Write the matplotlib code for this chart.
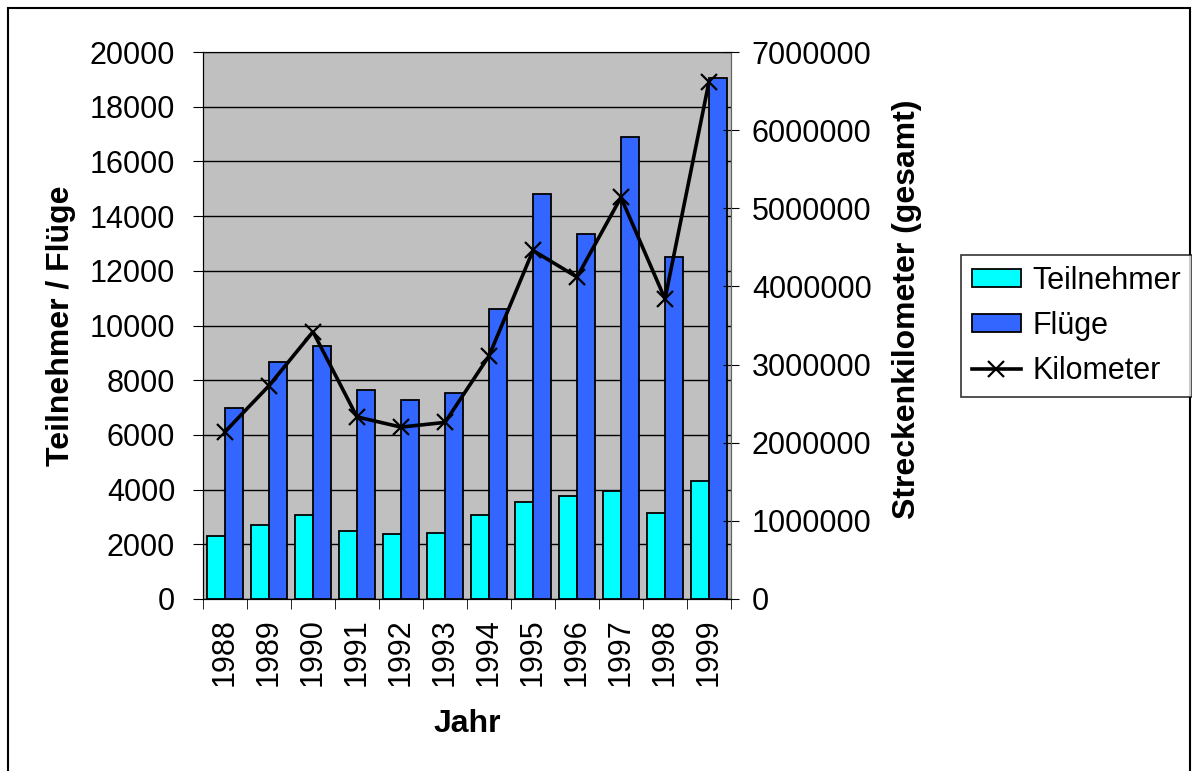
import numpy as np
import matplotlib.pyplot as plt
from matplotlib.ticker import FuncFormatter
from matplotlib.patches import Rectangle

# data
jahre = ['1988', '1989', '1990', '1991', '1992', '1993',
         '1994', '1995', '1996', '1997', '1998', '1999']
teilnehmer = [2290, 2700, 3060, 2490, 2360, 2420, 3060, 3560, 3750, 3950, 3130, 4330]
fluege = [7000, 8680, 9250, 7630, 7280, 7550, 10590, 14800, 13330, 16910, 12490, 19040]
kilometer = [2140000, 2730000, 3420000, 2330000, 2200000, 2260000,
             3110000, 4460000, 4120000, 5140000, 3840000, 6620000]

plt.rcParams['font.family'] = ['Liberation Sans', 'DejaVu Sans']
FS = 22
LFS = 23

fig = plt.figure(figsize=(11.92, 7.71), dpi=100)
ax = fig.add_axes([203/1192, 1-599/771, (731-203)/1192, (599-52)/771])
ax.set_facecolor('#C0C0C0')

x = np.arange(len(jahre))
w = 0.41
b1 = ax.bar(x - w/2, teilnehmer, w, color='#00FFFF', edgecolor='black', linewidth=1.3, label='Teilnehmer', zorder=3)
b2 = ax.bar(x + w/2, fluege, w, color='#3366FF', edgecolor='black', linewidth=1.3, label='Flüge', zorder=3)
ax.set_xlim(-0.5, 11.5)
ax.set_ylim(0, 20000)
ax.set_yticks(range(0, 20001, 2000))
ax.yaxis.grid(True, color='black', linewidth=1)
ax.set_axisbelow(True)

fmt = FuncFormatter(lambda v, p: '%d' % v)
ax.yaxis.set_major_formatter(fmt)
ax.tick_params(axis='y', labelsize=FS, length=7, pad=13, direction='out')

ax.set_xticks(x)
ax.set_xticklabels(jahre, rotation=90, fontsize=FS)
ax.tick_params(axis='x', which='major', length=0, pad=14)
ax.set_xticks(np.arange(-0.5, 12, 1), minor=True)
ax.tick_params(axis='x', which='minor', length=7, direction='out')

ax.set_ylabel('Teilnehmer / Flüge', fontsize=LFS, fontweight='bold', labelpad=10)
ax.set_xlabel('Jahr', fontsize=LFS, fontweight='bold', labelpad=16)

for s in ['top', 'right']:
    ax.spines[s].set_color('#808080')

ax2 = ax.twinx()
l1, = ax2.plot(x, kilometer, color='black', linewidth=2.6, marker='x',
               markersize=11, markeredgewidth=1.6, label='Kilometer', zorder=5)
ax2.set_ylim(0, 7000000)
ax2.set_yticks(range(0, 7000001, 1000000))
ax2.yaxis.set_major_formatter(fmt)
ax2.tick_params(axis='y', labelsize=FS, length=12, pad=9, direction='inout')
ax2.set_ylabel('Streckenkilometer (gesamt)', fontsize=LFS, fontweight='bold', labelpad=15)
ax2.yaxis.label.set_y(0.53)
ax2.spines['right'].set_color('#606060')

leg = fig.legend(handles=[b1, b2, l1], loc='upper left',
                 bbox_to_anchor=(961/1192, 1-255/771), fontsize=FS,
                 frameon=True, fancybox=False, edgecolor='black',
                 handlelength=1.6, handleheight=0.55, handletextpad=0.4,
                 labelspacing=0.5, borderpad=0.35, borderaxespad=0)
leg.get_frame().set_linewidth(1.2)

# outer chart border
fig.patches.append(Rectangle((8/1192, -0.01), 1182/1192, 1 - 8/771 + 0.01,
                             transform=fig.transFigure, fill=False,
                             edgecolor='black', linewidth=1.5))

fig.savefig('out.png', dpi=100)
